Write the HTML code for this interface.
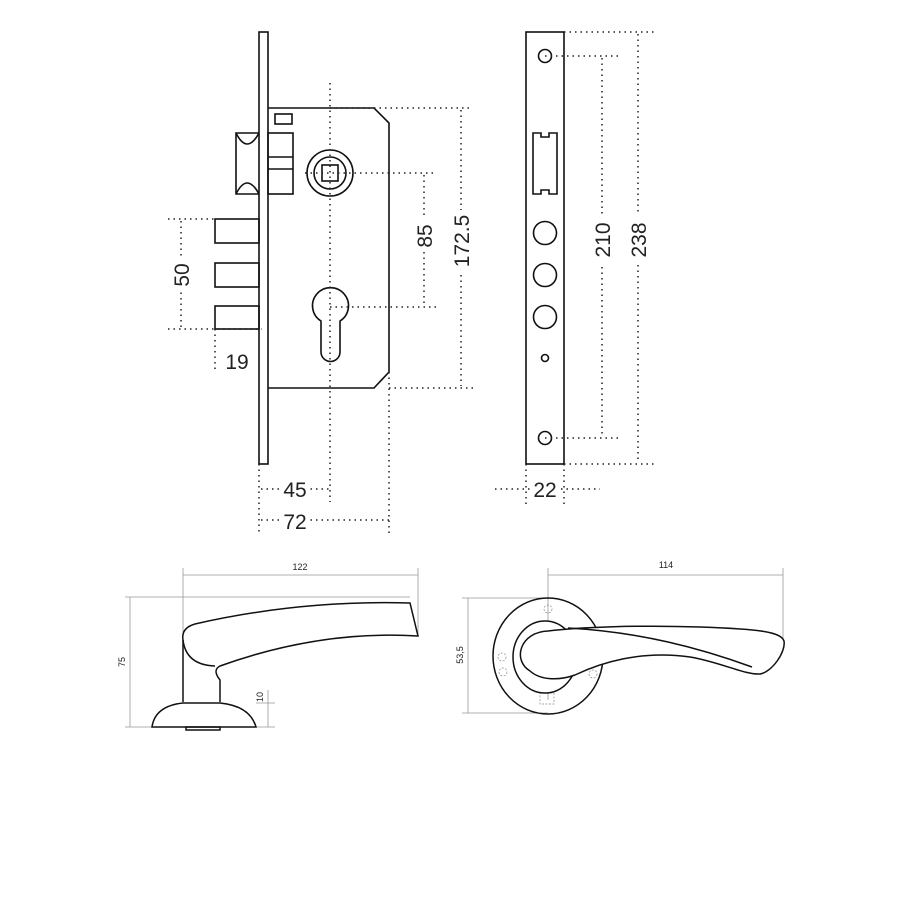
<!DOCTYPE html>
<html><head><meta charset="utf-8"><style>html,body{margin:0;padding:0;background:#fff}svg{display:block}text{font-family:"Liberation Sans",sans-serif;fill:#222}</style></head><body>
<svg width="900" height="900" viewBox="0 0 900 900" xmlns="http://www.w3.org/2000/svg">
<g fill="none" stroke="#111" stroke-width="1.6">
<rect x="259" y="32" width="9" height="432"/>
<path d="M268 108 H374 L389 123 V372 L374 388 H268"/>
<rect x="275" y="114" width="17" height="10"/>
<rect x="268" y="133" width="25" height="61"/>
<line x1="268" y1="157" x2="293" y2="157"/><line x1="268" y1="169" x2="293" y2="169"/>
<path d="M259 133 H236 V194 H259"/>
<path d="M236 133 Q247 155 259 133"/><path d="M236 194 Q247 172 259 194"/>
<circle cx="330" cy="173" r="23"/><circle cx="330" cy="173" r="16"/>
<rect x="322" y="165" width="16" height="16"/>
<rect x="215" y="219" width="44" height="24"/><rect x="215" y="263" width="44" height="24"/><rect x="215" y="306" width="44" height="23"/>
<path d="M321 321 A18 18 0 1 1 340 321 V352 A9.5 9.5 0 0 1 321 352 Z"/>
<rect x="526" y="32" width="38" height="432"/>
<circle cx="545" cy="56" r="6.5"/><circle cx="545" cy="438" r="6.5"/>
<path d="M533 133 H541 V137 H549 V133 H557 V194 H549 V190 H541 V194 H533 Z"/>
<circle cx="545" cy="233" r="11.5"/><circle cx="545" cy="275" r="11.5"/><circle cx="545" cy="317" r="11.5"/>
<circle cx="545" cy="358" r="3.5"/>
</g>
<g fill="none" stroke="#222" stroke-width="1.5" stroke-dasharray="1.5 4">
<line x1="330" y1="83" x2="330" y2="502"/>
<line x1="330" y1="108" x2="473" y2="108"/><line x1="389" y1="388" x2="473" y2="388"/>
<line x1="461" y1="110" x2="461" y2="386"/>
<line x1="305" y1="173" x2="436" y2="173"/><line x1="330" y1="307" x2="436" y2="307"/>
<line x1="424" y1="175" x2="424" y2="305"/>
<line x1="168" y1="219" x2="215" y2="219"/><line x1="168" y1="329" x2="262" y2="329"/>
<line x1="181" y1="221" x2="181" y2="327"/>
<line x1="215" y1="329" x2="215" y2="372"/>
<line x1="259" y1="464" x2="259" y2="535"/><line x1="389" y1="372" x2="389" y2="535"/>
<line x1="261" y1="489" x2="330" y2="489"/><line x1="261" y1="520" x2="389" y2="520"/>
<line x1="564" y1="32" x2="656" y2="32"/><line x1="545" y1="56" x2="620" y2="56"/>
<line x1="545" y1="438" x2="620" y2="438"/><line x1="564" y1="464" x2="656" y2="464"/>
<line x1="602" y1="58" x2="602" y2="436"/><line x1="638" y1="34" x2="638" y2="462"/>
<line x1="526" y1="464" x2="526" y2="505"/><line x1="564" y1="464" x2="564" y2="505"/>
<line x1="495" y1="489" x2="600" y2="489"/>
</g>
<g fill="#fff" stroke="none">
<rect x="450" y="210" width="22" height="62"/><rect x="414" y="218" width="20" height="34"/>
<rect x="170" y="258" width="22" height="34"/><rect x="222" y="350" width="30" height="24"/>
<rect x="280" y="478" width="30" height="24"/><rect x="280" y="509" width="30" height="24"/>
<rect x="590" y="215" width="24" height="48"/><rect x="626" y="215" width="24" height="48"/>
<rect x="530" y="478" width="30" height="24"/>
</g>
<g font-size="21">
<text transform="translate(469 241) rotate(-90)" text-anchor="middle">172.5</text>
<text transform="translate(432 236) rotate(-90)" text-anchor="middle">85</text>
<text transform="translate(189 275) rotate(-90)" text-anchor="middle">50</text>
<text x="237" y="369" text-anchor="middle">19</text>
<text x="295" y="497" text-anchor="middle">45</text>
<text x="295" y="529" text-anchor="middle">72</text>
<text transform="translate(610 240) rotate(-90)" text-anchor="middle">210</text>
<text transform="translate(646 240) rotate(-90)" text-anchor="middle">238</text>
<text x="545" y="497" text-anchor="middle">22</text>
</g>
<g fill="none" stroke="#999" stroke-width="0.8">
<line x1="183" y1="568" x2="183" y2="640"/><line x1="418" y1="568" x2="418" y2="636"/>
<line x1="183" y1="575" x2="418" y2="575"/>
<line x1="125" y1="597" x2="410" y2="597"/><line x1="125" y1="727" x2="275" y2="727"/>
<line x1="130" y1="597" x2="130" y2="727"/>
<line x1="256" y1="703" x2="275" y2="703"/><line x1="268" y1="690" x2="268" y2="727"/>
<line x1="548" y1="568" x2="548" y2="700"/><line x1="783" y1="568" x2="783" y2="640"/>
<line x1="548" y1="575" x2="783" y2="575"/>
<line x1="462" y1="598" x2="548" y2="598"/><line x1="462" y1="713" x2="548" y2="713"/>
<line x1="468" y1="598" x2="468" y2="713"/>
</g>
<g font-size="9" fill="#333">
<text x="300" y="570" text-anchor="middle">122</text>
<text x="666" y="568" text-anchor="middle">114</text>
<text transform="translate(125 662) rotate(-90)" text-anchor="middle">75</text>
<text transform="translate(263 697) rotate(-90)" text-anchor="middle">10</text>
<text transform="translate(463 655) rotate(-90)" text-anchor="middle">53,5</text>
</g>
<g fill="none" stroke="#111" stroke-width="1.5">
<path d="M183 702 V640 Q181 628 195 624 Q300 600 410 603 L418 636 Q320 630 220 666 Q212 670 220 680 V702"/>
<path d="M183 640 Q186 665 215 666"/>
<path d="M152 727 Q155 706 183 703 H220 Q250 706 256 727 Z"/>
<rect x="186" y="727" width="34" height="3"/>
</g>
<g fill="none" stroke="#888" stroke-width="0.7" stroke-dasharray="2 1.5">
<rect x="540" y="693" width="14" height="11"/>
<circle cx="548" cy="609" r="4"/><circle cx="502" cy="657" r="4"/><circle cx="503" cy="672" r="4"/><circle cx="593" cy="674" r="4"/>
</g>
<g stroke="#111" stroke-width="1.5">
<ellipse cx="548" cy="656" rx="55" ry="58" fill="none"/>
<ellipse cx="545" cy="657" rx="32" ry="36" fill="#fff"/>
<path fill="#fff" d="M548 631 C520 632 512 660 530 671 C540 680 558 681 575 675 C600 663 640 650 690 657 C720 662 745 675 760 674 C772 672 786 652 784 641 C781 632 760 629 700 627 C640 625 580 627 548 631 Z"/>
<path fill="none" d="M568 628 C640 632 700 648 752 667"/>
</g>
</svg>
</body></html>
